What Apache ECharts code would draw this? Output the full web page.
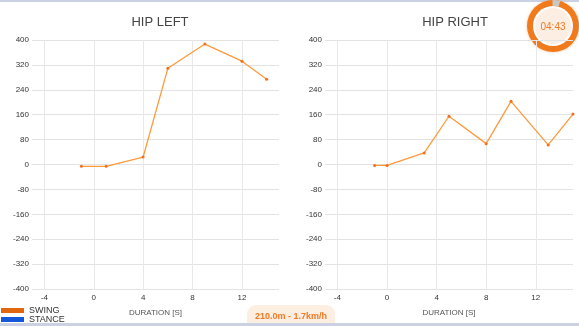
<!DOCTYPE html>
<html>
<head>
<meta charset="utf-8">
<script src="https://cdn.jsdelivr.net/npm/echarts@6/dist/echarts.min.js"></script>
<style>
html,body{margin:0;padding:0;background:#fff;}
#c{width:579px;height:326px;}
</style>
</head>
<body>
<div id="c"></div>
<script>
// Data
const titles = ['HIP LEFT', 'HIP RIGHT'];
const leftX = [-1, 1, 4, 6, 9, 12, 14];
const leftY = [-6, -6, 24, 309, 387, 332, 274];
const rightX = [-1, 0, 3, 5, 8, 10, 13, 15];
const rightY = [-3, -3, 37, 155, 67, 203, 63, 162];
const xTicks = [-4, 0, 4, 8, 12];
const yTicks = [-400, -320, -240, -160, -80, 0, 80, 160, 240, 320, 400];
const legendNames = ['SWING', 'STANCE'];
const legendColors = ['#e0660f', '#1458d8'];
const infoText = '210.0m - 1.7km/h';
const timerText = '04:43';

const chart = echarts.init(document.getElementById('c'));
const swingColor = '#ff9a3c';
const FF = 'Liberation Sans, Arial, sans-serif';
const axisFont = {fontFamily: FF, fontSize: 8, color: '#333'};

function xAxis(i) {
  return {
    type: 'value', gridIndex: i, min: -5, max: 15,
    name: 'DURATION [S]', nameLocation: 'middle', nameGap: 20,
    nameTextStyle: {fontFamily: FF, fontSize: 8, color: '#555'},
    axisLine: {show: false}, axisTick: {show: false, customValues: xTicks},
    axisLabel: Object.assign({customValues: xTicks, margin: 5}, axisFont),
    splitLine: {show: true, lineStyle: {color: '#e8e8e8', width: 1}}
  };
}
function yAxis(i) {
  return {
    type: 'value', gridIndex: i, min: yTicks[0], max: yTicks[yTicks.length - 1], interval: 80,
    axisLine: {show: false}, axisTick: {show: false},
    axisLabel: Object.assign({margin: 3}, axisFont),
    splitLine: {show: true, lineStyle: {color: '#e3e3e3', width: 1}}
  };
}

const legendGraphics = [];
legendNames.forEach((n, i) => {
  legendGraphics.push({type: 'rect', shape: {x: 1, y: 308 + i * 9, width: 23, height: 5}, style: {fill: legendColors[i]}});
  legendGraphics.push({type: 'text', style: {x: 29, y: 311 + i * 9, text: n, textVerticalAlign: 'middle', fill: '#333', font: '9px ' + FF}});
});

chart.setOption({
  animation: false,
  title: [
    {text: titles[0], left: 155, top: 11, textAlign: 'center', textStyle: {fontFamily: FF, fontSize: 13, fontWeight: 'normal', color: '#444'}},
    {text: titles[1], left: 450, top: 11, textAlign: 'center', textStyle: {fontFamily: FF, fontSize: 13, fontWeight: 'normal', color: '#444'}}
  ],
  grid: [
    {left: 32, right: 300, top: 40, bottom: 37},
    {left: 325, right: 6, top: 40, bottom: 37}
  ],
  xAxis: [xAxis(0), xAxis(1)],
  yAxis: [yAxis(0), yAxis(1)],
  series: [
    {name: legendNames[0], type: 'line', xAxisIndex: 0, yAxisIndex: 0, data: leftX.map((x, i) => [x, leftY[i]]),
      symbol: 'circle', symbolSize: 3, itemStyle: {color: '#f07020'}, lineStyle: {color: swingColor, width: 1.3}},
    {name: legendNames[0], type: 'line', xAxisIndex: 1, yAxisIndex: 1, data: rightX.map((x, i) => [x, rightY[i]]),
      symbol: 'circle', symbolSize: 3, itemStyle: {color: '#f07020'}, lineStyle: {color: swingColor, width: 1.3}}
  ],
  graphic: legendGraphics.concat([
    {type: 'rect', shape: {x: 0, y: 0, width: 579, height: 2}, style: {fill: '#c9d1e2'}},
    {type: 'rect', shape: {x: 247, y: 305, width: 88, height: 30, r: 9}, style: {fill: '#fdeee2'}},
    {type: 'text', style: {x: 291, y: 317, text: infoText, textAlign: 'center', textVerticalAlign: 'middle', fill: '#f07a24', font: 'bold 9px ' + FF}},
    {type: 'rect', shape: {x: 0, y: 323, width: 579, height: 3}, style: {fill: '#c9d1e2'}},
    {type: 'circle', shape: {cx: 553, cy: 26, r: 26}, style: {fill: '#f07a1c', shadowBlur: 3, shadowColor: 'rgba(240,120,30,0.4)'}},
    {type: 'sector', shape: {cx: 553, cy: 26, r: 26, r0: 20, startAngle: -Math.PI / 2 - 0.02, endAngle: -Math.PI / 2 + 0.28}, style: {fill: '#c8c8c8'}},
    {type: 'circle', shape: {cx: 553, cy: 26, r: 20}, style: {fill: '#ffffff'}},
    {type: 'circle', shape: {cx: 553, cy: 26, r: 18}, style: {fill: '#fdeee3'}},
    {type: 'text', style: {x: 553, y: 27, text: timerText, textAlign: 'center', textVerticalAlign: 'middle', fill: '#f07a24', font: '10px ' + FF}}
  ])
});
</script>
</body>
</html>
